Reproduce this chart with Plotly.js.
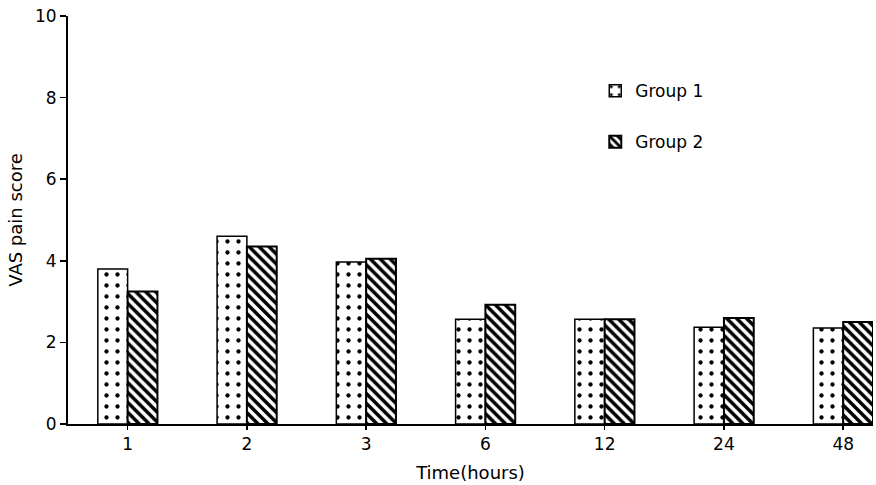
<!DOCTYPE html>
<html>
<head>
<meta charset="utf-8">
<script src="https://cdn.plot.ly/plotly-3.0.1.min.js"></script>
<style>html,body{margin:0;padding:0;background:#fff;}#chart{width:876px;height:485px;}</style>
</head>
<body>
<div id="chart"></div>
<script>
const categories = ["1", "2", "3", "6", "12", "24", "48"];
const group1 = [3.8, 4.6, 3.97, 2.57, 2.57, 2.37, 2.35];
const group2 = [3.25, 4.35, 4.05, 2.92, 2.57, 2.6, 2.5];
const seriesNames = ["Group 1", "Group 2"];
const yTicks = [0, 2, 4, 6, 8, 10];

const fontFam = "DejaVu Sans, Liberation Sans, sans-serif";

const traces = [
  {
    type: "bar", name: seriesNames[0], x: categories, y: group1,
    legendgroup: "a",
    marker: {
      color: "#ffffff",
      line: {color: "#000", width: 1.5},
      pattern: {shape: ".", fgcolor: "#000", bgcolor: "#fff", size: 11, solidity: 0.12, fillmode: "replace"}
    }
  },
  {
    type: "bar", name: seriesNames[1], x: categories, y: group2,
    legendgroup: "b",
    marker: {
      color: "#ffffff",
      line: {color: "#000", width: 2},
      pattern: {shape: "\\", fgcolor: "#000", bgcolor: "#fff", size: 7, solidity: 0.5, fillmode: "replace"}
    }
  }
];

const layout = {
  width: 876, height: 485,
  margin: {l: 68, r: 3, t: 16, b: 61},
  paper_bgcolor: "#fff", plot_bgcolor: "#fff",
  font: {family: fontFam, size: 17, color: "#000"},
  barmode: "group",
  bargap: 0.5,
  bargroupgap: 0,
  showlegend: true,
  legend: {
    x: 0.655, y: 0.86, xanchor: "left", yanchor: "top",
    font: {family: fontFam, size: 17, color: "#000"},
    tracegroupgap: 26,
    bgcolor: "rgba(0,0,0,0)"
  },
  xaxis: {
    type: "category",
    range: [-0.5, 6.25],
    showline: true, linecolor: "#000", linewidth: 2,
    ticks: "outside", ticklen: 4, tickcolor: "#000", tickwidth: 1.5,
    showgrid: false, zeroline: false,
    tickfont: {family: fontFam, size: 17, color: "#000"},
    title: {text: "Time(hours)", font: {family: fontFam, size: 18, color: "#000"}, standoff: 13}
  },
  yaxis: {
    range: [0, 10],
    tickvals: yTicks,
    showline: true, linecolor: "#000", linewidth: 2,
    ticks: "outside", ticklen: 6, tickcolor: "#000", tickwidth: 1.5,
    showgrid: false, zeroline: false,
    tickfont: {family: fontFam, size: 17, color: "#000"},
    title: {text: "VAS pain score", font: {family: fontFam, size: 18, color: "#000"}, standoff: 8}
  }
};

Plotly.newPlot("chart", traces, layout, {displayModeBar: false, staticPlot: true});
</script>
</body>
</html>
